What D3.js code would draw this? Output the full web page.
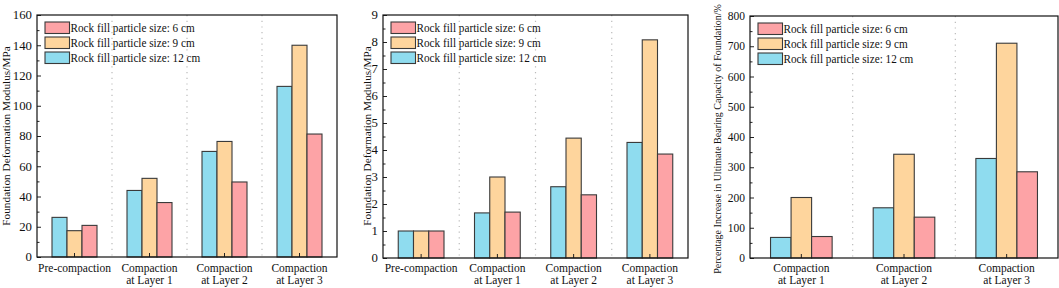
<!DOCTYPE html>
<html>
<head>
<meta charset="utf-8">
<script src="https://d3js.org/d3.v7.min.js"></script>
<style>
  body { margin: 0; background: #fff; }
</style>
</head>
<body>
<div id="chart"></div>
<script>
// data
const categories4 = ["Pre-compaction", "Compaction\nat Layer 1", "Compaction\nat Layer 2", "Compaction\nat Layer 3"];
const categories3 = ["Compaction\nat Layer 1", "Compaction\nat Layer 2", "Compaction\nat Layer 3"];
const seriesNames = ["Rock fill particle size: 12 cm", "Rock fill particle size: 9 cm", "Rock fill particle size: 6 cm"];
const legendOrder = [2, 1, 0];

const modulus12 = [26.2, 44, 69.8, 112.8];
const modulus9 = [17.4, 52, 76.4, 140];
const modulus6 = [20.9, 36, 49.6, 81.3];

const ratio12 = [1, 1.67, 2.64, 4.28];
const ratio9 = [1, 3.0, 4.44, 8.08];
const ratio6 = [1, 1.7, 2.34, 3.85];

const bearing12 = [68, 166, 329];
const bearing9 = [200, 343, 710];
const bearing6 = [71, 135, 285];

const colors = ["#8fdcef", "#fed59d", "#fda3a6"];
const serif = "Liberation Serif";

const width = 1059, height = 288;
const svg = d3.select("#chart").append("svg")
  .attr("width", width).attr("height", height)
  .attr("font-family", serif);

function drawPanel(p) {
  const g = svg.append("g");
  const x = d3.scaleBand().domain(p.categories).range([p.left, p.right]);
  const y = d3.scaleLinear().domain([0, p.max]).range([p.bottom, p.top]);
  const sub = d3.scaleBand().domain([0, 1, 2])
    .range([0, x.bandwidth()]).paddingOuter(1).paddingInner(0);

  // separators
  g.selectAll("line.sep")
    .data(p.categories.slice(1))
    .join("line")
    .attr("x1", d => x(d)).attr("x2", d => x(d))
    .attr("y1", p.top).attr("y2", p.bottom)
    .attr("stroke", "#bbb").attr("stroke-width", 1.2)
    .attr("stroke-dasharray", "1.2,4.5");

  // bars
  p.series.forEach((vals, si) => {
    g.selectAll(null)
      .data(vals)
      .join("rect")
      .attr("x", (d, i) => x(p.categories[i]) + sub(si))
      .attr("width", sub.bandwidth())
      .attr("y", d => y(d))
      .attr("height", d => y(0) - y(d))
      .attr("fill", colors[si])
      .attr("stroke", "#3a3a3a").attr("stroke-width", 1.1);
  });

  // y axis ticks inward
  const yAxis = d3.axisRight(y).tickValues(d3.range(0, p.max + 1e-9, p.step))
    .tickSize(4).tickFormat("");
  g.append("g").attr("transform", `translate(${p.left},0)`).call(yAxis)
    .call(a => a.select(".domain").remove())
    .selectAll("line").attr("stroke", "#222");
  const minor = d3.axisRight(y).tickValues(d3.range(p.step / 2, p.max, p.step))
    .tickSize(2.5).tickFormat("");
  g.append("g").attr("transform", `translate(${p.left},0)`).call(minor)
    .call(a => a.select(".domain").remove())
    .selectAll("line").attr("stroke", "#222");

  // y tick labels
  g.selectAll("text.yt")
    .data(d3.range(0, p.max + 1e-9, p.step))
    .join("text")
    .attr("x", p.left - 5).attr("y", d => y(d))
    .attr("dy", "0.35em").attr("text-anchor", "end")
    .attr("font-size", p.tickSize).attr("fill", "#111")
    .text(d => d3.format("~g")(d));

  // x ticks inward at category centers
  const xAxis = d3.axisTop(x).tickSize(4).tickFormat("");
  g.append("g").attr("transform", `translate(0,${p.bottom})`).call(xAxis)
    .call(a => a.select(".domain").remove())
    .selectAll("line").attr("stroke", "#222");

  // x labels
  g.selectAll("text.xl")
    .data(p.categories)
    .join("text")
    .attr("text-anchor", "middle")
    .attr("font-size", 11.5).attr("fill", "#111")
    .each(function (d) {
      const lines = d.split("\n");
      d3.select(this).selectAll("tspan").data(lines).join("tspan")
        .attr("x", x(d) + x.bandwidth() / 2)
        .attr("y", (l, i) => 271.5 + i * 12.5)
        .text(l => l);
    });

  // frame
  g.append("rect")
    .attr("x", p.left).attr("y", p.top)
    .attr("width", p.right - p.left).attr("height", p.bottom - p.top)
    .attr("fill", "none").attr("stroke", "#111").attr("stroke-width", 1.2);

  // y label
  g.append("text")
    .attr("transform", `translate(${p.labelX},${p.labelY}) rotate(-90)`)
    .attr("text-anchor", "middle")
    .attr("font-size", p.labelSize).attr("fill", "#111")
    .text(p.label);

  // legend (text is a bit condensed in the original)
  const lg = g.append("g").attr("transform", `translate(${p.left + 8},${p.top + 7})`);
  legendOrder.forEach((si, i) => {
    lg.append("rect")
      .attr("x", 0).attr("y", i * 15)
      .attr("width", 24.5).attr("height", 11.5)
      .attr("fill", colors[si]).attr("stroke", "#3a3a3a").attr("stroke-width", 1.1);
    const t = lg.append("text")
      .attr("x", 25.5).attr("y", i * 15 + 10)
      .attr("font-size", 12.6).attr("fill", "#111")
      .text(seriesNames[si]);
    const w = t.node().getComputedTextLength();
    t.attr("textLength", w * 0.89).attr("lengthAdjust", "spacingAndGlyphs");
  });
}

drawPanel({
  categories: categories4, series: [modulus12, modulus9, modulus6],
  left: 37, right: 337, top: 15, bottom: 257, max: 160, step: 20, tickSize: 12.8,
  label: "Foundation Deformation Modulus/MPa", labelX: 9.5, labelY: 136, labelSize: 11.3
});
drawPanel({
  categories: categories4, series: [ratio12, ratio9, ratio6],
  left: 383, right: 688, top: 15, bottom: 258, max: 9, step: 1, tickSize: 12.8,
  label: "Foundation Deformation Modulus/MPa", labelX: 370.5, labelY: 136, labelSize: 11.3
});
drawPanel({
  categories: categories3, series: [bearing12, bearing9, bearing6],
  left: 750, right: 1058, top: 16, bottom: 258, max: 800, step: 100, tickSize: 11.5,
  label: "Percentage Increase in Ultimate Bearing Capacity of Foundation/%", labelX: 721, labelY: 139, labelSize: 10
});
</script>
</body>
</html>
